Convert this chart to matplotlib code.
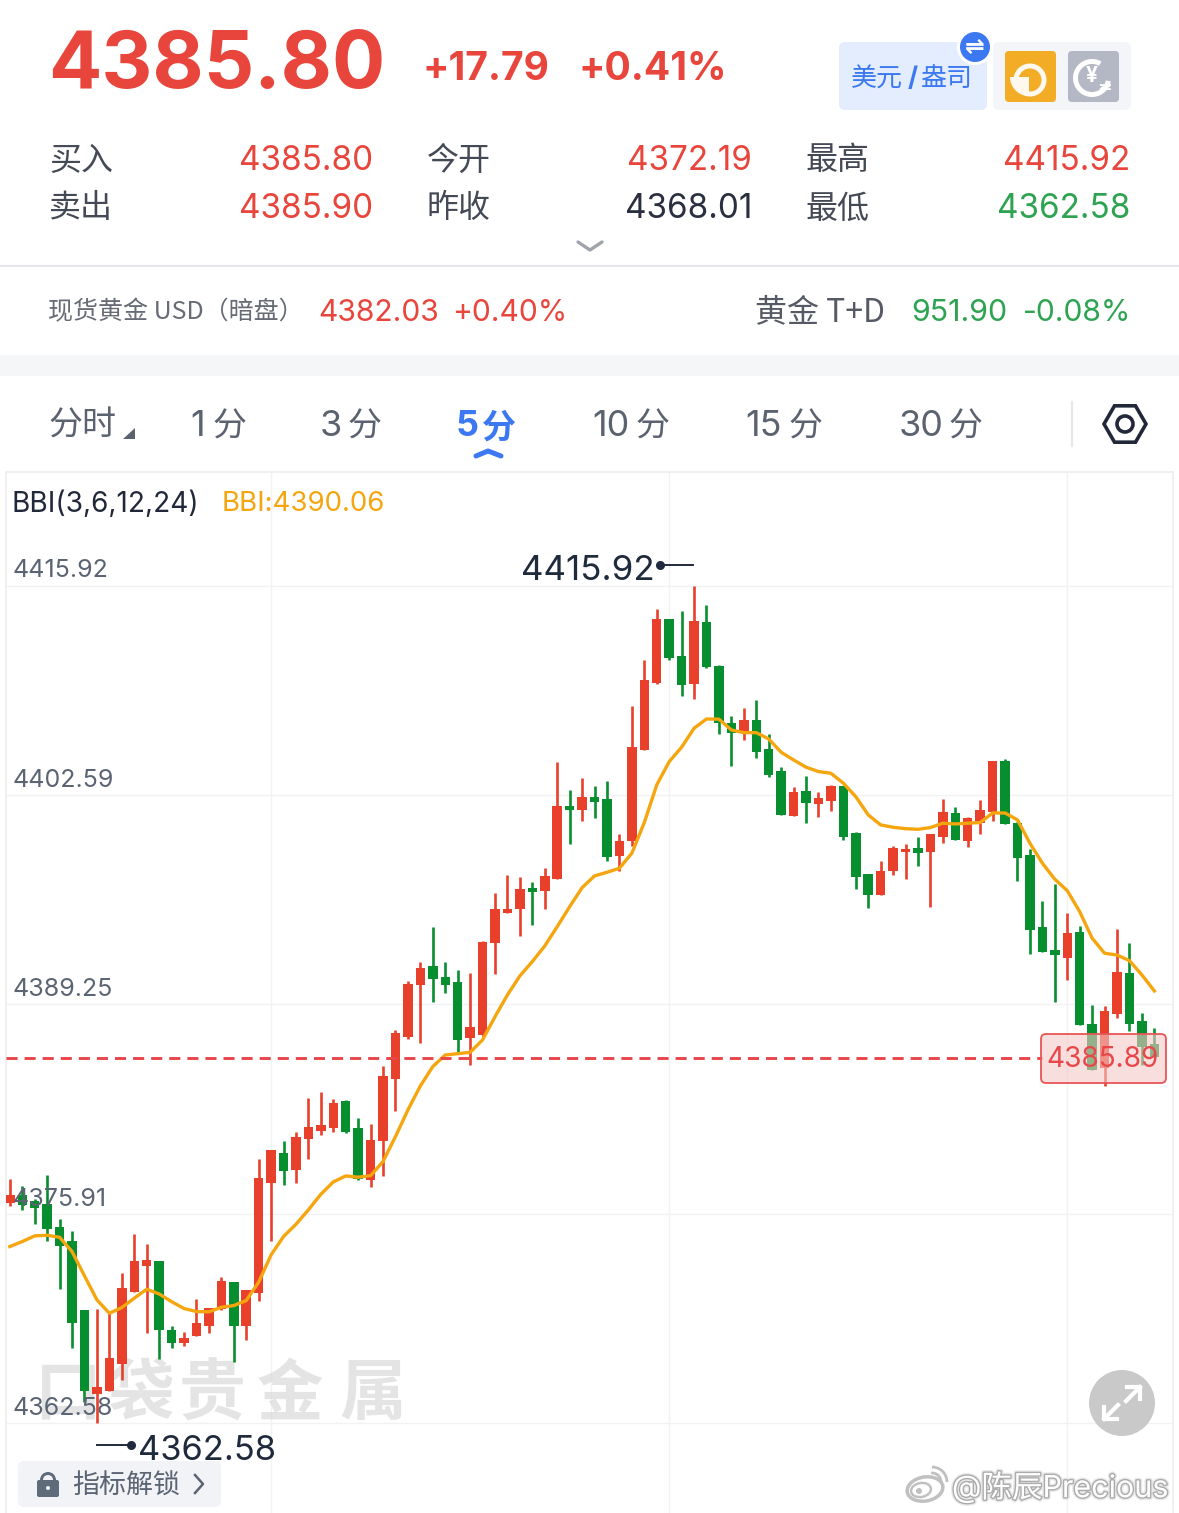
import matplotlib
matplotlib.use('Agg')
import matplotlib.pyplot as plt
import matplotlib.patheffects as pe
from matplotlib.patches import Arc, Circle, FancyBboxPatch, Wedge, Ellipse, RegularPolygon, Rectangle

plt.rcParams['font.family'] = ['Inter', 'Noto Sans CJK SC', 'DejaVu Sans']

# prices, one entry per 5 minute bar
opens = [4376.62, 4377.09, 4376.71, 4376.54, 4375.09, 4374.20, 4369.78, 4364.43, 4364.64, 4366.32,
         4370.95, 4372.61, 4372.88, 4368.51, 4367.70, 4368.13, 4368.76, 4369.83, 4371.55, 4368.78,
         4370.85, 4377.88, 4379.81, 4378.73, 4380.66, 4381.21, 4381.38, 4383.08, 4381.38, 4378.07,
         4380.57, 4384.51, 4387.16, 4390.50, 4391.71, 4390.98, 4390.69, 4387.14, 4387.31, 4393.19,
         4395.08, 4395.34, 4396.68, 4396.51, 4397.25, 4401.88, 4401.67, 4402.46, 4402.35, 4398.70,
         4399.69, 4405.45, 4409.76, 4413.84, 4411.44, 4409.65, 4413.63, 4410.84, 4407.19, 4406.66,
         4407.38, 4405.53, 4404.11, 4401.28, 4402.83, 4402.03, 4402.24, 4403.17, 4400.20, 4397.55,
         4396.23, 4397.76, 4398.97, 4399.21, 4398.99, 4399.93, 4401.48, 4399.65, 4400.80, 4401.52,
         4404.77, 4400.84, 4398.76, 4394.19, 4392.73, 4392.24, 4393.87, 4387.99, 4385.19, 4388.65,
         4391.26, 4388.20, 4386.74]
closes = [4377.11, 4376.47, 4376.26, 4374.95, 4373.86, 4368.95, 4364.62, 4364.85, 4366.72, 4371.19,
          4372.88, 4372.95, 4368.51, 4367.68, 4368.00, 4368.95, 4369.89, 4371.63, 4368.78, 4371.06,
          4378.20, 4379.98, 4378.64, 4380.83, 4381.47, 4381.57, 4382.95, 4381.13, 4378.11, 4380.62,
          4384.70, 4387.42, 4390.54, 4391.58, 4390.84, 4390.48, 4386.99, 4387.82, 4393.26, 4395.34,
          4395.30, 4396.59, 4396.44, 4397.44, 4401.90, 4401.67, 4402.46, 4402.18, 4398.63, 4399.67,
          4405.68, 4409.91, 4413.82, 4411.33, 4409.63, 4413.67, 4410.76, 4407.17, 4406.57, 4407.38,
          4405.36, 4403.85, 4401.35, 4402.81, 4402.07, 4402.39, 4403.20, 4399.95, 4397.35, 4396.23,
          4397.76, 4399.22, 4399.18, 4398.93, 4400.14, 4401.54, 4399.74, 4401.12, 4401.63, 4404.77,
          4400.76, 4398.59, 4394.00, 4392.62, 4392.39, 4393.77, 4387.97, 4385.08, 4388.86, 4391.32,
          4388.03, 4386.55, 4385.89]
highs = [4378.11, 4377.69, 4376.84, 4378.39, 4375.56, 4374.82, 4369.78, 4369.85, 4369.57, 4372.12,
         4374.61, 4373.99, 4372.88, 4368.78, 4368.38, 4370.48, 4369.89, 4371.89, 4371.55, 4371.06,
         4379.41, 4379.98, 4380.53, 4381.13, 4383.27, 4383.70, 4383.23, 4383.14, 4382.02, 4381.64,
         4385.35, 4387.63, 4390.77, 4391.94, 4394.17, 4391.96, 4391.45, 4391.24, 4393.28, 4396.34,
         4397.51, 4397.36, 4397.02, 4397.95, 4404.73, 4402.92, 4403.69, 4403.18, 4403.48, 4400.08,
         4408.27, 4411.20, 4414.43, 4413.84, 4414.31, 4415.92, 4414.73, 4410.86, 4407.64, 4408.12,
         4408.68, 4406.49, 4404.41, 4403.11, 4403.81, 4402.81, 4403.24, 4403.17, 4400.22, 4397.55,
         4398.39, 4399.33, 4399.46, 4399.89, 4400.14, 4402.33, 4401.80, 4401.18, 4402.26, 4404.77,
         4404.88, 4400.86, 4399.14, 4395.87, 4396.93, 4395.06, 4394.26, 4389.20, 4389.12, 4394.04,
         4393.15, 4388.71, 4387.76]
lows = [4376.43, 4376.16, 4375.26, 4374.18, 4371.12, 4367.36, 4363.94, 4362.58, 4364.64, 4365.32,
        4370.95, 4368.34, 4366.66, 4367.36, 4367.51, 4368.13, 4368.34, 4369.76, 4366.47, 4367.89,
        4370.36, 4374.16, 4377.73, 4377.88, 4379.41, 4380.91, 4381.13, 4381.06, 4378.07, 4377.64,
        4378.34, 4382.47, 4387.05, 4386.78, 4389.39, 4389.97, 4386.18, 4385.36, 4387.20, 4391.20,
        4395.06, 4393.58, 4394.28, 4395.36, 4397.25, 4399.50, 4400.95, 4401.16, 4398.36, 4397.78,
        4399.37, 4405.47, 4409.65, 4411.20, 4408.93, 4408.72, 4410.69, 4406.51, 4404.47, 4406.08,
        4404.98, 4403.75, 4401.35, 4401.28, 4400.84, 4401.20, 4401.56, 4399.73, 4396.61, 4395.42,
        4396.23, 4397.52, 4397.27, 4398.04, 4395.45, 4399.52, 4399.72, 4399.27, 4400.14, 4400.95,
        4400.76, 4397.10, 4392.47, 4392.62, 4389.39, 4390.81, 4387.97, 4385.08, 4384.02, 4388.41,
        4387.56, 4385.38, 4385.89]
bbi = [4373.82, 4374.14, 4374.50, 4374.54, 4374.41, 4373.50, 4371.95, 4370.42, 4369.57, 4369.93,
       4370.53, 4371.10, 4370.80, 4370.31, 4369.87, 4369.68, 4369.66, 4369.95, 4370.06, 4370.38,
       4371.55, 4373.29, 4374.46, 4375.24, 4376.16, 4377.15, 4377.94, 4378.32, 4378.24, 4378.34,
       4379.24, 4380.83, 4382.53, 4384.06, 4385.29, 4386.03, 4386.11, 4386.20, 4386.99, 4388.47,
       4389.86, 4391.07, 4391.98, 4392.98, 4394.21, 4395.48, 4396.69, 4397.44, 4397.67, 4397.93,
       4398.89, 4400.84, 4403.24, 4404.72, 4405.64, 4406.85, 4407.44, 4407.43, 4406.74, 4406.57,
       4406.57, 4406.17, 4405.32, 4404.83, 4404.37, 4404.09, 4403.98, 4403.35, 4402.49, 4401.33,
       4400.69, 4400.54, 4400.45, 4400.41, 4400.52, 4400.80, 4400.75, 4400.80, 4400.84, 4401.45,
       4401.45, 4401.01, 4399.52, 4398.25, 4397.23, 4396.50, 4395.16, 4393.47, 4392.51, 4392.40,
       4392.04, 4391.13, 4390.11]
y_ticks = [4415.92, 4402.59, 4389.25, 4375.91, 4362.58]
tick_text_y = [568, 778, 987, 1197, 1406]
last_price = 4385.81

RED = '#e8402a'
GREEN = '#078e2e'
ORANGE = '#f5a60f'
TXT_RED = '#e8453c'
TXT_GREEN = '#2ea352'
BLUE = '#3b78f2'
GREY = '#5c6370'
SANS = ['Inter', 'Noto Sans CJK SC', 'DejaVu Sans']
CJK = ['Noto Sans CJK SC', 'DejaVu Sans']

fig = plt.figure(figsize=(11.79, 15.13), dpi=100, facecolor='white')

# chart area, 6..1173 px across and 472..1513 px down
ax = fig.add_axes([6 / 1179, 0, 1167 / 1179, 1041 / 1513])
ax.set_xlim(-0.31, 93.5)
ax.set_ylim(4356.84, 4423.18)
ax.set_xticks([])
ax.set_yticks([])
for s in ax.spines.values():
    s.set_color('#eeeeee')
    s.set_linewidth(1.2)
ax.spines['bottom'].set_visible(False)

for t in y_ticks:
    ax.axhline(t, color='#f2f2f2', lw=1, zorder=1)
for i in [21, 53, 85]:
    ax.axvline(i, color='#f2f2f2', lw=1, zorder=1)

xs = list(range(len(opens)))
for i in xs:
    col = RED if closes[i] >= opens[i] else GREEN
    ax.vlines(i, lows[i], highs[i], color=col, lw=1.9, zorder=3)
    ax.bar(i, abs(closes[i] - opens[i]), bottom=min(opens[i], closes[i]), width=0.76, color=col, lw=0, zorder=3)
ax.plot(xs, bbi, color=ORANGE, lw=2.4, zorder=4, solid_joinstyle='round')
ax.plot([-0.31, 83], [last_price, last_price], color='#e8474a', lw=2.1, dashes=(3.8, 2.4), zorder=5)

# everything around the chart is placed in image pixels
page = fig.add_axes([0, 0, 1, 1], zorder=5)
page.set_xlim(0, 1179)
page.set_ylim(1513, 0)
page.axis('off')

# watermark sits behind the candles
for x, s in zip([68, 140, 212, 290, 373], '口袋贵金属'):
    ax.text(x, 1395, s, fontsize=48, color='#d9d9d9', alpha=0.7, ha='center', va='center',
            family=CJK, fontweight='bold', zorder=2, transform=page.transData)


def txt(x, y, s, size, color, ha='left', weight='normal', family=SANS, **kw):
    return page.text(x, y + 0.1 * size + 0.3, s, fontsize=size * 0.72, color=color, ha=ha, va='center',
                     fontweight=weight, family=family, **kw)


def box(x0, y0, x1, y1, color, r=6, **kw):
    page.add_patch(FancyBboxPatch((x0 + r, y0 + r), x1 - x0 - 2 * r, y1 - y0 - 2 * r,
                                  boxstyle='round,pad=%d' % r, fc=color, ec=kw.pop('ec', 'none'), **kw))


# header
txt(48, 59, '4385.80', 79, TXT_RED, weight='bold')
txt(423, 65, '+17.79', 39, TXT_RED, weight='bold')
txt(578, 65, '+0.41%', 39, TXT_RED, weight='bold')

box(839, 42, 987, 110, '#e4edfd')
txt(851, 76, '美元', 26, BLUE, family=CJK, weight='medium')
txt(908, 76, '/', 26, BLUE, weight='bold')
txt(921, 76, '盎司', 26, BLUE, family=CJK, weight='medium')
page.add_patch(Circle((975, 47), 18, fc='white', ec='none', zorder=3))
page.add_patch(Circle((975, 47), 15, fc=BLUE, ec='none', zorder=3))
page.text(975, 47, '⇌', fontsize=17, color='white', ha='center', va='center', family='DejaVu Sans', fontweight='bold', zorder=4)

box(993, 42, 1131, 110, '#f3f5f8')
box(1005, 51, 1056, 102, '#f3ac25', r=4)
page.add_patch(Circle((1030, 80), 14, fc='none', ec='#fff8ee', lw=3.6))
page.add_patch(Wedge((1029, 77), 19, 90, 180, fc='#fff8ee', ec='none'))
box(1068, 51, 1119, 102, '#b3b8c4', r=4)
page.add_patch(Wedge((1092, 78), 19, 10, 300, width=5, fc='white', ec='none'))
page.text(1092, 76, '¥', fontsize=15, color='white', ha='center', va='center', fontweight='bold')
page.text(1105, 87, '⇄', fontsize=11, color='white', ha='center', va='center', family='DejaVu Sans', fontweight='bold')

# quote table
rows = [(157, '买入', '4385.80', TXT_RED, '今开', '4372.19', TXT_RED, '最高', '4415.92', TXT_RED),
        (205, '卖出', '4385.90', TXT_RED, '昨收', '4368.01', '#2a3040', '最低', '4362.58', TXT_GREEN)]
for y, a, av, ac, b, bv, bc, c, cv, cc in rows:
    txt(49, y, a, 32, '#444a55', family=CJK)
    txt(373, y, av, 33.3, ac, ha='right')
    txt(427, y, b, 32, '#444a55', family=CJK)
    txt(752, y, bv, 33.3, bc, ha='right')
    txt(805, y, c, 32, '#444a55', family=CJK)
    txt(1130, y, cv, 33.3, cc, ha='right')

page.plot([578, 590, 602], [242, 250, 242], color='#a0a4ab', lw=2.4, solid_capstyle='round')
page.plot([0, 1179], [266, 266], color='#e5e7ea', lw=1.4)

txt(48, 309, '现货黄金 USD（暗盘）', 25, '#666b75', family=CJK)
txt(318, 310, '4382.03', 30, TXT_RED)
txt(452, 310, '+0.40%', 30, TXT_RED)
txt(755, 309, '黄金 T+D', 32, '#555a64', family=CJK)
txt(911, 310, '951.90', 30.4, TXT_GREEN)
txt(1023, 310, '-0.08%', 30, TXT_GREEN)
page.add_patch(Rectangle((0, 355), 1179, 21, fc='#f5f6f8', ec='none'))

# period tabs, digits and the unit sit apart
txt(49, 423, '分时', 34, GREY)
tab_digits = [(190, '1'), (320, '3'), (456, '5'), (592, '10'), (745, '15'), (899, '30')]
tab_units = [213, 348, 482, 636, 789, 949]
for (x, s), ux in zip(tab_digits, tab_units):
    c = BLUE if s == '5' else GREY
    w = 'bold' if s == '5' else 'normal'
    txt(x, 423, s, 36, c, weight=w)
    txt(ux, 423, '分', 34, c, weight=w, family=CJK)
page.fill([123, 135, 135], [439, 439, 428], color='#5c6370', lw=0)
page.plot([476, 488, 501], [456, 451, 456], color=BLUE, lw=3.6, solid_capstyle='round')
page.plot([1072, 1072], [402, 446], color='#e5e7ea', lw=1.5)
page.add_patch(RegularPolygon((1125, 424), 6, radius=21, orientation=0.5236, fc='none', ec='#20283a', lw=2.6))
page.add_patch(Circle((1125, 424), 8, fc='none', ec='#20283a', lw=2.6))

# chart labels
txt(12, 501, 'BBI(3,6,12,24)', 28, '#20283a')
txt(222, 501, 'BBI:4390.06', 27.7, ORANGE)
for t, y in zip(y_ticks, tick_text_y):
    txt(12, y, '%.2f' % t, 25, '#5a6472')

txt(521, 567, '4415.92', 35, '#1f2a3c')
page.plot([660, 693], [565, 565], color='#1f2a3c', lw=1.4)
page.plot([660], [565], 'o', color='#1f2a3c', ms=5.5)
txt(138, 1447, '4362.58', 34.5, '#1f2a3c')
page.plot([97, 132], [1445, 1445], color='#1f2a3c', lw=1.4)
page.plot([131], [1445], 'o', color='#1f2a3c', ms=5.5)

# last price tag, the candles show through its fill
box(1041, 1034, 1166, 1083, '#f5c9c9', r=5, alpha=0.6)
box(1041, 1034, 1166, 1083, 'none', r=5, ec='#e85555', lw=1.3)
txt(1103, 1056, '4385.89', 28, '#e8474a', ha='center')

# bottom widgets
page.add_patch(Circle((1122, 1403), 33, fc='#c9c9c9', ec='none'))
page.plot([1104, 1118], [1419, 1405], color='white', lw=3)
page.plot([1104, 1104, 1117], [1407, 1419, 1419], color='white', lw=3)
page.plot([1126, 1140], [1401, 1387], color='white', lw=3)
page.plot([1127, 1140, 1140], [1387, 1387, 1399], color='white', lw=3)

box(18, 1461, 221, 1507, '#f2f3f7')
box(37, 1480, 59, 1497, '#5f6b7a', r=2)
page.add_patch(Wedge((48, 1480), 8, 180, 360, width=3, fc='#5f6b7a', ec='none'))
page.add_patch(Circle((48, 1488), 2, fc='white', ec='none'))
txt(72, 1483, '指标解锁', 27, '#5a6472', family=CJK)
page.plot([195, 203, 195], [1475, 1484, 1493], color='#5a6472', lw=1.8)

halo = [pe.withStroke(linewidth=4, foreground='#e8e8e8'), pe.withStroke(linewidth=2, foreground='#ababab')]
page.add_patch(Ellipse((925, 1489), 36, 24, angle=-10, fc='white', ec='#c0c0c0', lw=2.5))
page.add_patch(Ellipse((921, 1490), 20, 14, angle=-10, fc='white', ec='#c0c0c0', lw=1.8))
page.add_patch(Circle((919, 1491), 3, fc='#c0c0c0', ec='none'))
page.add_patch(Arc((932, 1482), 18, 18, theta1=-95, theta2=0, angle=0, ec='#c0c0c0', lw=2))
page.add_patch(Arc((932, 1482), 30, 30, theta1=-90, theta2=0, angle=0, ec='#c0c0c0', lw=2))
txt(952, 1484, '@陈辰Precious', 30.5, 'white', path_effects=halo)

fig.savefig('out.png', dpi=100)
